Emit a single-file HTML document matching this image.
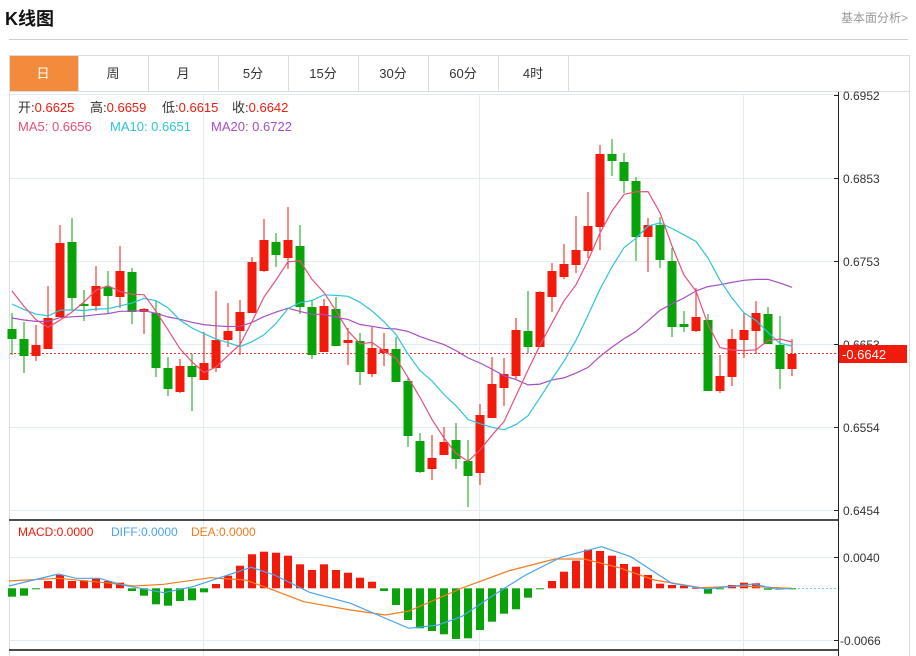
<!DOCTYPE html>
<html><head><meta charset="utf-8"><style>
html,body{margin:0;padding:0;background:#fff;width:916px;height:656px;overflow:hidden}
svg{display:block}
</style></head><body>
<svg id="s" width="916" height="656" xmlns="http://www.w3.org/2000/svg" font-family="Liberation Sans, Noto Sans CJK SC, sans-serif">
<rect width="916" height="656" fill="#fff"/>
<text x="5" y="25" font-size="18" font-weight="bold" fill="#111">K线图</text>
<text x="908" y="22" font-size="12" fill="#999" text-anchor="end">基本面分析&gt;</text>
<line x1="9" y1="39.5" x2="908" y2="39.5" stroke="#d0d0d0"/>
<rect x="9.5" y="55.5" width="900" height="36" fill="#fff" stroke="#ddd"/>
<rect x="10" y="56" width="68" height="35" fill="#f28c3c"/>
<g stroke="#ddd"><line x1="78.5" y1="56" x2="78.5" y2="91"/><line x1="148.5" y1="56" x2="148.5" y2="91"/><line x1="218.5" y1="56" x2="218.5" y2="91"/><line x1="288.5" y1="56" x2="288.5" y2="91"/><line x1="358.5" y1="56" x2="358.5" y2="91"/><line x1="428.5" y1="56" x2="428.5" y2="91"/><line x1="498.5" y1="56" x2="498.5" y2="91"/><line x1="568.5" y1="56" x2="568.5" y2="91"/></g>
<g font-size="13" text-anchor="middle" fill="#333">
<text x="43" y="78" fill="#fff">日</text><text x="113" y="78">周</text><text x="183" y="78">月</text><text x="253" y="78">5分</text><text x="323" y="78">15分</text><text x="393" y="78">30分</text><text x="463" y="78">60分</text><text x="533" y="78">4时</text></g>
<line x1="9.5" y1="92" x2="9.5" y2="656" stroke="#ddd"/>
<line x1="909.5" y1="92" x2="909.5" y2="656" stroke="#ddd"/>
<g stroke="#e3ebf3"><line x1="10" y1="94.5" x2="838" y2="94.5"/>
<line x1="10" y1="178.5" x2="838" y2="178.5"/><line x1="10" y1="261.5" x2="838" y2="261.5"/><line x1="10" y1="344.5" x2="838" y2="344.5"/><line x1="10" y1="427.5" x2="838" y2="427.5"/><line x1="10" y1="510.5" x2="838" y2="510.5"/>
<line x1="203.5" y1="94" x2="203.5" y2="656"/><line x1="479.5" y1="94" x2="479.5" y2="656"/><line x1="743.5" y1="94" x2="743.5" y2="656"/>
<line x1="10" y1="557.5" x2="838" y2="557.5"/><line x1="10" y1="640.5" x2="838" y2="640.5"/></g>
<line x1="838.5" y1="92" x2="838.5" y2="656" stroke="#222"/>
<g stroke="#222"><line x1="834" y1="95.5" x2="838" y2="95.5"/><line x1="834" y1="178.5" x2="838" y2="178.5"/><line x1="834" y1="261.5" x2="838" y2="261.5"/><line x1="834" y1="344.5" x2="838" y2="344.5"/><line x1="834" y1="427.5" x2="838" y2="427.5"/><line x1="834" y1="510.5" x2="838" y2="510.5"/><line x1="834" y1="557.5" x2="838" y2="557.5"/><line x1="834" y1="640.5" x2="838" y2="640.5"/></g>
<g font-size="12" fill="#333"><text x="843" y="100">0.6952</text><text x="843" y="183">0.6853</text><text x="843" y="266">0.6753</text><text x="843" y="349">0.6653</text><text x="843" y="432">0.6554</text><text x="843" y="515">0.6454</text><text x="843" y="562">0.0040</text><text x="840" y="645">-0.0066</text></g>
<line x1="10" y1="353.5" x2="838" y2="353.5" stroke="#e53935" stroke-dasharray="2,2"/>
<rect x="839" y="345" width="68" height="18" fill="#f21a0a"/>
<text x="842" y="359" font-size="13" fill="#fff">-0.6642</text>
<line x1="9" y1="520" x2="838" y2="520" stroke="#111" stroke-width="1.5"/>
<line x1="9" y1="650" x2="838" y2="650" stroke="#111" stroke-width="1.5"/>
<line x1="790" y1="588.5" x2="838" y2="588.5" stroke="#7ec8e3" stroke-dasharray="2,2"/>
<g id="g"></g>
<g font-size="13">
<text x="18" y="112" fill="#333">开:<tspan fill="#f21a0a">0.6625</tspan></text>
<text x="90" y="112" fill="#333">高:<tspan fill="#f21a0a">0.6659</tspan></text>
<text x="162" y="112" fill="#333">低:<tspan fill="#f21a0a">0.6615</tspan></text>
<text x="232" y="112" fill="#333">收:<tspan fill="#f21a0a">0.6642</tspan></text>
<text x="18" y="131" fill="#e8507a">MA5: 0.6656</text>
<text x="110" y="131" fill="#2ec4db">MA10: 0.6651</text>
<text x="211" y="131" fill="#a64fc4">MA20: 0.6722</text>
<text x="18" y="536" font-size="12" fill="#f21a0a">MACD:0.0000</text>
<text x="111" y="536" font-size="12" fill="#4aa3f0">DIFF:0.0000</text>
<text x="191" y="536" font-size="12" fill="#f37b1d">DEA:0.0000</text></g>
</svg>
<script>
var C=[[329,339,313,355,0],[339,356,322,373,0],[345,356,325,361,1],[318,349,286,349,1],[243,317,225,317,1],[242,298,218,310,0],[304,306,290,321,0],[286,306,266,311,1],[287,296,271,314,0],[271,297,246,308,1],[272,312,268,324,0],[309,312,308,334,1],[313,368,301,377,0],[368,389,357,396,0],[366,392,359,393,1],[366,377,354,411,0],[363,380,332,380,1],[340,368,291,372,1],[331,340,303,347,1],[312,331,300,355,1],[262,313,257,313,1],[240,271,219,272,1],[242,255,233,267,0],[240,258,207,269,1],[246,307,225,314,0],[307,355,300,359,0],[306,352,299,352,1],[309,346,297,346,0],[340,343,328,365,1],[341,372,333,385,0],[348,374,327,377,1],[349,353,333,366,1],[349,382,337,382,0],[381,436,377,447,0],[441,472,433,473,0],[458,469,435,480,1],[442,455,427,455,1],[440,459,423,469,0],[461,476,440,507,0],[415,473,404,485,1],[384,418,357,418,1],[374,388,358,406,1],[330,376,318,380,1],[331,347,291,353,0],[292,347,291,347,1],[271,297,263,312,1],[264,277,244,279,1],[250,265,216,273,1],[226,251,192,258,1],[154,227,145,250,1],[154,161,139,176,0],[162,181,153,193,0],[181,237,177,261,0],[225,237,218,272,1],[225,260,217,268,0],[261,327,248,337,0],[324,327,311,332,0],[317,331,288,332,1],[320,391,314,391,0],[376,391,355,393,1],[339,377,329,386,1],[330,340,313,358,1],[313,331,301,354,1],[314,344,307,344,0],[345,369,316,389,0],[354,369,339,376,1]];
var M=[245,242,223,198,180,198,196,190,198,203,228,242,268,272,258,256,232,207,182,152,118,110,113,122,148,165,148,165,173,188,200,228,270,315,340,348,358,372,370,345,320,296,283,248,222,198,170,137,104,108,122,147,155,180,206,210,212,218,236,221,210,203,205,224,223,220];
var s='',R='#f21a0a',G='#08a308';
function X(i){return 12+12*i}
C.forEach(function(c,i){var x=X(i),col=c[4]?R:G;
s+='<line x1="'+x+'" y1="'+c[2]+'" x2="'+x+'" y2="'+c[3]+'" stroke="'+col+'" stroke-width="1"/>';
s+='<rect x="'+(x-4.5)+'" y="'+c[0]+'" width="9" height="'+Math.max(2,c[1]-c[0])+'" fill="'+col+'"/>';});
var cl=C.map(function(c){return c[4]?c[0]:c[1]});
function ma(N,t){var pad=(t*N-cl[0])/(N-1),a=[];for(var i=0;i<cl.length;i++){var sm=0;for(var k=i-N+1;k<=i;k++)sm+=k<0?pad:cl[k];a.push(sm/N)}return a}
function pl(a,col){return '<polyline fill="none" stroke="'+col+'" stroke-width="1.2" points="'+a.map(function(v,i){return X(i)+','+v.toFixed(1)}).join(' ')+'"/>'}
s+=pl(ma(20,318),'#a64fc4')+pl(ma(10,304),'#2ec4db')+pl(ma(5,291),'#e8507a');
var z=588.3;
M.forEach(function(v,i){var y=515+v/3,x=X(i);var top=Math.min(y,z),h=Math.max(1,Math.abs(y-z));s+='<rect x="'+(x-4)+'" y="'+top.toFixed(1)+'" width="8" height="'+h.toFixed(1)+'" fill="'+(y<z?R:G)+'"/>';});
function pp(a,col){return '<polyline fill="none" stroke="'+col+'" stroke-width="1.2" points="'+a.map(function(p){return (p[0]/1.712).toFixed(1)+','+(515+p[1]/3).toFixed(1)}).join(' ')+'"/>'}
s+=pp([[15,198],[100,190],[180,203],[230,213],[280,208],[360,188],[420,195],[460,220],[520,260],[600,285],[660,300],[700,288],[790,220],[870,168],[950,132],[1000,132],[1060,158],[1120,195],[1200,218],[1270,213],[1355,220]],'#f37b1d');
s+=pp([[15,213],[100,177],[130,190],[170,190],[210,210],[280,233],[330,215],[430,157],[470,180],[530,232],[600,265],[700,340],[750,330],[790,305],[850,235],[900,180],[960,127],[1030,95],[1080,125],[1150,205],[1210,222],[1290,207],[1330,223],[1355,220]],'#4aa3f0');
document.getElementById('g').innerHTML=s;
</script>
</body></html>
